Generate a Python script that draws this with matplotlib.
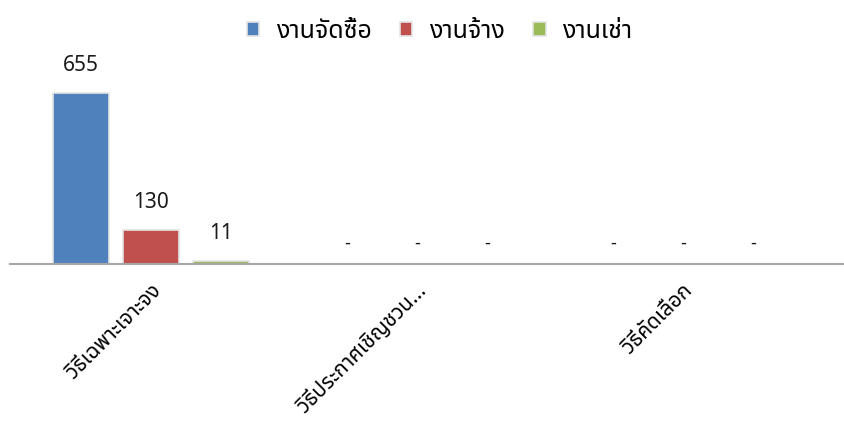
import matplotlib
matplotlib.use('Agg')
import matplotlib.pyplot as plt
from matplotlib import font_manager
from matplotlib.ft2font import FT2Font
import numpy as np

# data
categories = ['วิธีเฉพาะเจาะจง', 'วิธีประกาศเชิญชวน...', 'วิธีคัดเลือก']
series = ['งานจัดซื้อ', 'งานจ้าง', 'งานเช่า']
values = {
    'งานจัดซื้อ': [655, 0, 0],
    'งานจ้าง': [130, 0, 0],
    'งานเช่า': [11, 0, 0],
}
colors = ['#4F81BD', '#C0504D', '#9BBB59']


def thai_font():
    # look for any installed font that has Thai glyphs
    found = []
    for path in font_manager.findSystemFonts():
        try:
            cmap = FT2Font(path).get_charmap()
        except Exception:
            continue
        if 0x0E01 in cmap and 0x0E27 in cmap:
            found.append(font_manager.FontProperties(fname=path).get_name())
    for pref in ['Tahoma', 'Leelawadee', 'Noto Sans Thai', 'Noto Sans Thai UI', 'Sarabun', 'Loma', 'Garuda']:
        if pref in found:
            return pref
    return found[0] if found else 'DejaVu Sans'


plt.rcParams['font.family'] = [thai_font(), 'DejaVu Sans']

fig = plt.figure(figsize=(8.45, 4.29), dpi=100)
ax = fig.add_axes([10/845, 1-264/429, 835/845, (264-70)/429])

x = np.arange(len(categories))
step = 0.263
width = 0.21
for i, s in enumerate(series):
    pos = x + (i-1)*step
    v = values[s]
    ax.bar(pos, v, width, color=colors[i], edgecolor='#e4e4e4', linewidth=1.2, label=s, zorder=2)
    for p, val in zip(pos, v):
        txt = str(val) if val else '-'
        ax.annotate(txt, (p, val), xytext=(0, 12 if val else 8), textcoords='offset points',
                    ha='center', va='bottom', fontsize=15 if val else 13, color='#1a1a1a')

ax.set_xlim(-0.53, 2.61)
ax.set_ylim(0, 743)
for sp in ['top', 'right', 'left']:
    ax.spines[sp].set_visible(False)
ax.spines['bottom'].set_color('#a6a6a6')
ax.spines['bottom'].set_linewidth(1.5)
ax.set_yticks([])
ax.set_xticks(x)
ax.set_xticklabels(categories, rotation=45, ha='right', rotation_mode='anchor', fontsize=15)
ax.tick_params(axis='x', length=0, pad=12)

ax.legend(loc='center', bbox_to_anchor=(0.515, (264-31)/(264-70)), ncol=3,
          frameon=False, fontsize=18, handlelength=0.5, handleheight=0.5, columnspacing=1.1,
          handletextpad=0.7)

fig.savefig('out.png', dpi=100)
